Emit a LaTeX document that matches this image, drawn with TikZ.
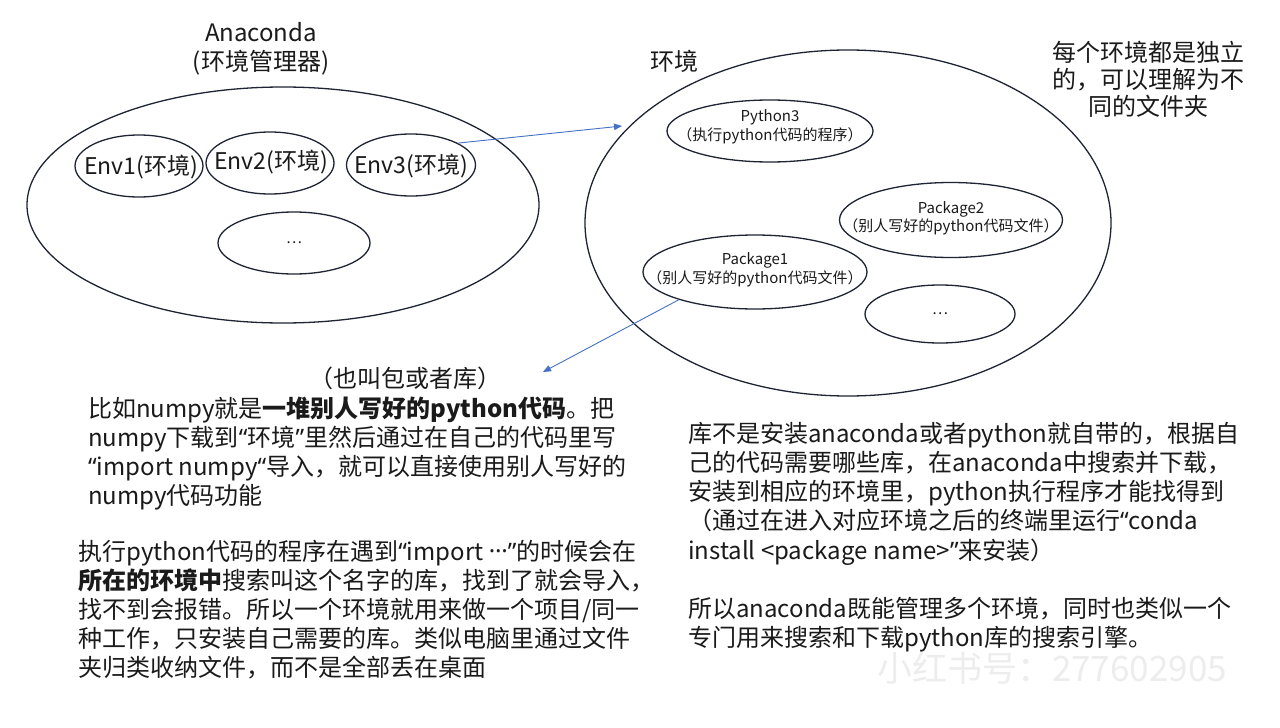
\documentclass[tikz,border=0pt]{standalone}
\usepackage{fontspec}
\setmainfont{Noto Sans CJK SC}
\newfontfamily\qfont{Noto Sans}
\usetikzlibrary{shapes.geometric,arrows.meta}
\definecolor{edge}{HTML}{1E2433}
\definecolor{ink}{HTML}{1A1A1A}
\definecolor{arrowblue}{HTML}{4472C4}
\newcommand\bodyfont{\fontsize{24}{29}\selectfont}
\newcommand\labfont{\fontsize{24}{28}\selectfont}
\newcommand\envfont{\fontsize{23}{27}\selectfont}
\newcommand\smallfont{\fontsize{15}{20}\selectfont}
\newcommand\oq{{\qfont “}}
\newcommand\cq{{\qfont ”}}
\newcommand\mdots{\raisebox{0.3em}{\qfont …}}
\tikzset{
  ell/.style={ellipse, draw=edge, line width=1.3pt, inner sep=0pt},
  lbl/.style={inner sep=0pt, text=ink, font=\labfont},
  envlbl/.style={inner sep=0pt, text=ink, font=\envfont},
  sml/.style={inner sep=0pt, text=ink, font=\smallfont, anchor=base},
  txtline/.style={anchor=base west, inner sep=0pt, text=ink, font=\bodyfont},
  conn/.style={draw=arrowblue, line width=0.9pt, -{Triangle[length=8pt,width=6.5pt]}},
}
\begin{document}
\begin{tikzpicture}[x=1pt,y=-1pt]
\useasboundingbox (0,0) rectangle (1280,728);
\fill[white] (0,0) rectangle (1280,728);

% watermark (faint)
\node[inner sep=0pt, text=black!7, font=\fontsize{35}{40}\selectfont] (wm) at (1052,668) {小红书号：277602905};

% ---- Anaconda group ----
\node[lbl, anchor=base] (anaT) at (261,41) {Anaconda};
\node[lbl, anchor=base] (anaS) at (261,70) {(环境管理器)};
\node[ell, minimum width=512pt, minimum height=236pt] (ana) at (283,205) {};
\node[ell, minimum width=128pt, minimum height=62pt] (env1) at (139,166) {};
\node[ell, minimum width=128pt, minimum height=62pt] (env2) at (270,163) {};
\node[ell, minimum width=129pt, minimum height=62pt] (env3) at (411,165) {};
\node[ell, minimum width=152pt, minimum height=62pt] (envd) at (294,243) {};
\node[envlbl] (env1t) at (141,167) {Env1(环境)};
\node[envlbl] (env2t) at (271,162) {Env2(环境)};
\node[envlbl] (env3t) at (411,166) {Env3(环境)};
\node[inner sep=0pt, text=ink, font=\smallfont] (envdt) at (294,243) {…};

% ---- Environment group ----
\node[lbl, anchor=base] (envT) at (674,70) {环境};
\node[ell, minimum width=526pt, minimum height=346pt] (envbig) at (848,223) {};
\node[ell, minimum width=206pt, minimum height=62pt] (py3) at (770,131) {};
\node[ell, minimum width=224pt, minimum height=74pt] (pkg1) at (755,272) {};
\node[ell, minimum width=223pt, minimum height=75pt] (pkg2) at (951,220) {};
\node[ell, minimum width=150pt, minimum height=58pt] (pkgd) at (940,314) {};
\node[sml] (py3a) at (770,121) {Python3};
\node[sml] (py3b) at (770,140) {（执行python代码的程序）};
\node[sml] (pkg1a) at (755,264) {Package1};
\node[sml] (pkg1b) at (755,283) {（别人写好的python代码文件）};
\node[sml] (pkg2a) at (951,213) {Package2};
\node[sml] (pkg2b) at (951,231) {（别人写好的python代码文件）};
\node[inner sep=0pt, text=ink, font=\smallfont] (pkgdt) at (940,314) {…};

% note top right
\node[lbl, anchor=base] (n1) at (1148,61) {每个环境都是独立};
\node[lbl, anchor=base] (n2) at (1148,88) {的，可以理解为不};
\node[lbl, anchor=base] (n3) at (1148,115) {同的文件夹};

% connectors
\coordinate (envIn) at (622,126);
\coordinate (pkgOut) at (543,372);
\draw[conn] (env3.25) -- (envIn);
\draw[conn] (pkg1.200) -- (pkgOut);

% ---- Block A ----
\node[txtline, anchor=base] (a0) at (405,387) {（也叫包或者库）};
\node[txtline] (a1) at (88,417) {比如numpy就是\textbf{一堆别人写好的python代码}。把};
\node[txtline] (a2) at (88,446) {numpy下载到\oq 环境\cq 里然后通过在自己的代码里写};
\node[txtline] (a3) at (88,475) {\oq import numpy\oq 导入，就可以直接使用别人写好的};
\node[txtline] (a4) at (88,504) {numpy代码功能};

% ---- Block B ----
\node[txtline] (b1) at (78,560) {执行python代码的程序在遇到\oq import \mdots\cq 的时候会在};
\node[txtline] (b2) at (78,589) {\textbf{所在的环境中}搜索叫这个名字的库，找到了就会导入，};
\node[txtline] (b3) at (78,618) {找不到会报错。所以一个环境就用来做一个项目/同一};
\node[txtline] (b4) at (78,647) {种工作，只安装自己需要的库。类似电脑里通过文件};
\node[txtline] (b5) at (78,676) {夹归类收纳文件，而不是全部丢在桌面};

% ---- Block C ----
\node[txtline] (c1) at (688,442) {库不是安装anaconda或者python就自带的，根据自};
\node[txtline] (c2) at (688,471) {己的代码需要哪些库，在anaconda中搜索并下载，};
\node[txtline] (c3) at (688,500) {安装到相应的环境里，python执行程序才能找得到};
\node[txtline] (c4) at (688,529) {（通过在进入对应环境之后的终端里运行\oq conda};
\node[txtline] (c5) at (688,559) {install <package name>\cq 来安装）};
\node[txtline] (c6) at (688,617) {所以anaconda既能管理多个环境，同时也类似一个};
\node[txtline] (c7) at (688,646) {专门用来搜索和下载python库的搜索引擎。};
\end{tikzpicture}
\end{document}
